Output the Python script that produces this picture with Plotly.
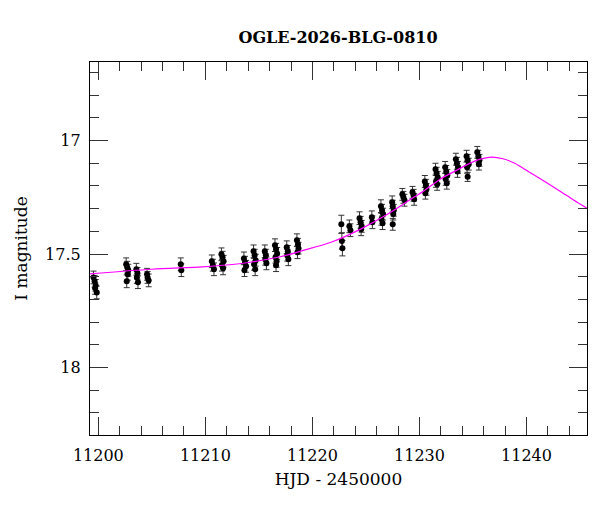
import plotly.graph_objects as go

# --- photometry (HJD - 2450000, I mag, error), one line per night ---
hjd = [
    11199.55, 11199.65, 11199.75, 11199.70, 11199.85,
    11202.60, 11202.70, 11202.80, 11202.75, 11202.65,
    11203.55, 11203.65, 11203.60, 11203.70,
    11204.55, 11204.60, 11204.70,
    11207.70, 11207.75,
    11210.60, 11210.70, 11210.80,
    11211.50, 11211.60, 11211.70, 11211.55, 11211.65,
    11213.60, 11213.70, 11213.80, 11213.65,
    11214.50, 11214.60, 11214.70, 11214.55, 11214.65,
    11215.55, 11215.65, 11215.60, 11215.70,
    11216.50, 11216.60, 11216.70, 11216.55, 11216.65, 11216.60,
    11217.60, 11217.70, 11217.65, 11217.75,
    11218.55, 11218.65, 11218.70, 11218.60,
    11222.70, 11222.75, 11222.80,
    11223.45, 11223.55,
    11224.40, 11224.50, 11224.60, 11224.55,
    11225.55, 11225.60,
    11226.40, 11226.50, 11226.60, 11226.45, 11226.55,
    11227.45, 11227.50, 11227.60, 11227.55, 11227.50,
    11228.40, 11228.50, 11228.60,
    11229.35, 11229.45, 11229.50,
    11230.50, 11230.60, 11230.65, 11230.55,
    11231.50, 11231.60, 11231.70, 11231.55, 11231.65,
    11232.40, 11232.50, 11232.60, 11232.45, 11232.55,
    11233.40, 11233.50, 11233.60, 11233.55,
    11234.40, 11234.50, 11234.60, 11234.45, 11234.50,
    11235.40, 11235.50, 11235.60, 11235.55,
]
mag = [
    17.603, 17.620, 17.638, 17.651, 17.669,
    17.545, 17.558, 17.571, 17.589, 17.620,
    17.567, 17.585, 17.603, 17.624,
    17.589, 17.603, 17.616,
    17.545, 17.571,
    17.532, 17.549, 17.567,
    17.501, 17.514, 17.532, 17.549, 17.563,
    17.519, 17.536, 17.554, 17.571,
    17.488, 17.505, 17.527, 17.545, 17.567,
    17.488, 17.505, 17.523, 17.541,
    17.461, 17.479, 17.497, 17.514, 17.532, 17.549,
    17.470, 17.488, 17.505, 17.523,
    17.439, 17.457, 17.474, 17.492,
    17.369, 17.442, 17.474,
    17.378, 17.395,
    17.342, 17.360, 17.378, 17.391,
    17.338, 17.360,
    17.289, 17.307, 17.324, 17.347, 17.364,
    17.272, 17.289, 17.307, 17.324, 17.369,
    17.237, 17.250, 17.263,
    17.228, 17.241, 17.259,
    17.180, 17.197, 17.215, 17.232,
    17.126, 17.144, 17.162, 17.180, 17.193,
    17.118, 17.136, 17.153, 17.171, 17.188,
    17.082, 17.100, 17.118, 17.136,
    17.069, 17.087, 17.104, 17.118, 17.160,
    17.052, 17.069, 17.087, 17.104,
]
err = [
    0.028, 0.026, 0.026, 0.026, 0.028,
    0.028, 0.026, 0.026, 0.026, 0.028,
    0.026, 0.026, 0.026, 0.028,
    0.026, 0.026, 0.028,
    0.028, 0.028,
    0.028, 0.026, 0.028,
    0.028, 0.026, 0.026, 0.026, 0.028,
    0.028, 0.026, 0.026, 0.028,
    0.028, 0.026, 0.026, 0.026, 0.028,
    0.028, 0.026, 0.026, 0.028,
    0.028, 0.026, 0.026, 0.026, 0.026, 0.028,
    0.028, 0.026, 0.026, 0.028,
    0.028, 0.026, 0.026, 0.028,
    0.040, 0.036, 0.034,
    0.028, 0.028,
    0.028, 0.026, 0.026, 0.028,
    0.028, 0.028,
    0.028, 0.026, 0.026, 0.026, 0.028,
    0.028, 0.026, 0.026, 0.026, 0.026,
    0.026, 0.026, 0.026,
    0.026, 0.026, 0.026,
    0.026, 0.026, 0.026, 0.026,
    0.026, 0.026, 0.026, 0.026, 0.026,
    0.026, 0.026, 0.026, 0.026, 0.026,
    0.026, 0.026, 0.026, 0.026,
    0.026, 0.026, 0.026, 0.026, 0.020,
    0.026, 0.026, 0.026, 0.026,
]

# model light curve
model_hjd = [11199.2, 11205.0, 11209.7, 11212.5, 11214.3, 11217.0, 11219.0,
             11221.8, 11224.5, 11227.0, 11229.5, 11230.4, 11232.0, 11233.2,
             11234.5, 11235.6, 11236.7, 11237.8, 11238.9, 11240.2, 11241.4,
             11243.1, 11244.4, 11245.7]
model_mag = [17.587, 17.567, 17.556, 17.546, 17.535, 17.512, 17.486,
             17.447, 17.390, 17.325, 17.249, 17.222, 17.168, 17.138,
             17.105, 17.083, 17.073, 17.080, 17.100, 17.137, 17.172,
             17.222, 17.262, 17.300]

font = "DejaVu Serif"

fig = go.Figure()

fig.add_trace(go.Scatter(
    x=hjd, y=mag, mode="markers",
    marker=dict(color="black", size=6),
    error_y=dict(type="data", array=err, color="#333333", thickness=1, width=3),
    showlegend=False,
))

fig.add_trace(go.Scatter(
    x=model_hjd, y=model_mag, mode="lines",
    line=dict(color="#ff00ff", width=1.2, shape="spline", smoothing=0.8),
    showlegend=False,
))

axis_common = dict(
    showgrid=False, zeroline=False,
    showline=True, linecolor="black", linewidth=1.2, mirror="allticks",
    ticks="inside", tickcolor="#333333", tickwidth=1,
    tickfont=dict(family=font, size=16, color="black"),
)

fig.update_xaxes(
    range=[11199.22, 11245.65], dtick=10, tick0=11200, ticklen=18,
    tickformat="d", ticklabelstandoff=6,
    minor=dict(ticks="inside", dtick=2, ticklen=9, tickcolor="#333333"),
    title=dict(text="HJD - 2450000", font=dict(family=font, size=17, color="black"),
               standoff=8),
    **axis_common,
)
fig.update_yaxes(
    range=[18.297, 16.654], dtick=0.5, tick0=17, ticklen=18,
    ticklabelstandoff=5,
    minor=dict(ticks="inside", dtick=0.1, ticklen=9, tickcolor="#333333"),
    title=dict(text="I magnitude", font=dict(family=font, size=17, color="black"),
               standoff=13),
    **axis_common,
)

# page is drawn with an 8px body offset, so margins are shifted to compensate
fig.update_layout(
    width=600, height=512,
    margin=dict(l=79, r=21, t=54, b=85),
    plot_bgcolor="white", paper_bgcolor="white",
    title=dict(text="<b>OGLE-2026-BLG-0810</b>", x=0.55, xanchor="center",
               y=0.943, yanchor="middle",
               font=dict(family=font, size=16, color="black")),
)

fig.write_html("out.html")
